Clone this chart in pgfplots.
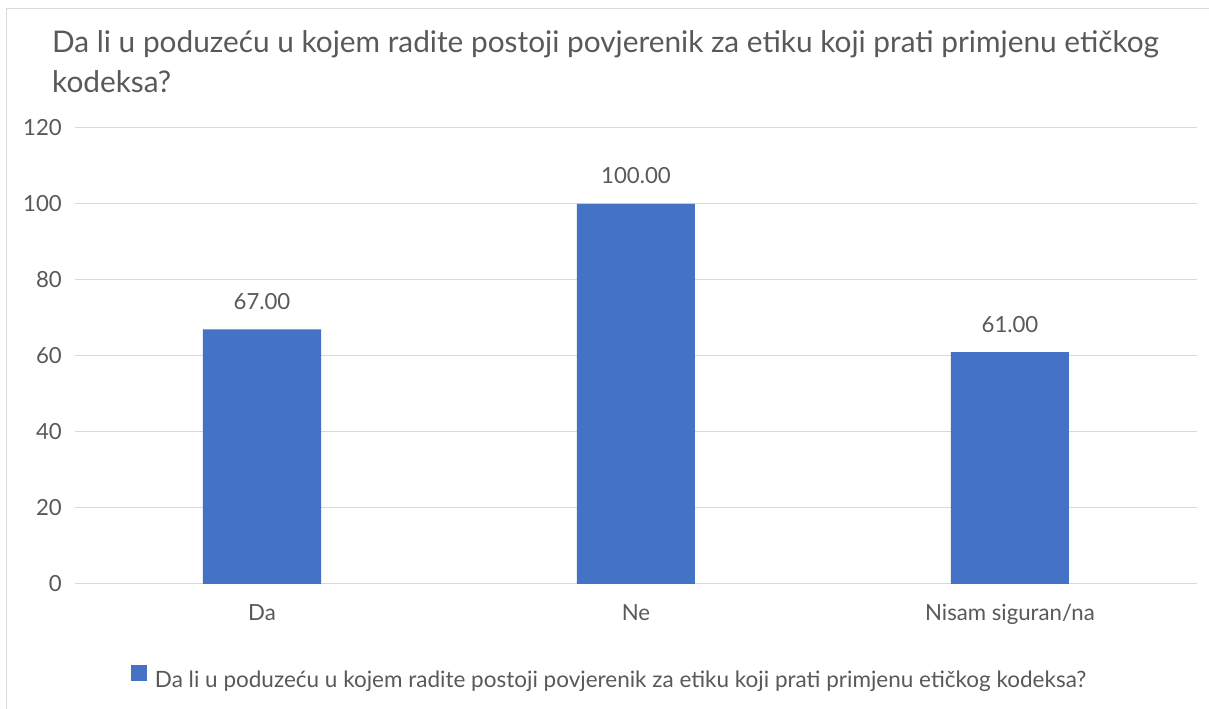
\documentclass[border=0pt]{standalone}
\usepackage{fontspec}
\setmainfont{Lato}
\usepackage{pgfplots}
\pgfplotsset{compat=1.18}
\definecolor{txt}{HTML}{595959}
\definecolor{grd}{HTML}{D9D9D9}
\definecolor{bar}{HTML}{4472C4}
\begin{document}
\begin{tikzpicture}
\useasboundingbox (0,0) rectangle (1209bp,709bp);
\fill[white] (0,0) rectangle (1209bp,709bp);
\draw[grd, line width=1.5bp] (6.5bp,0) -- (6.5bp,700.5bp) -- (1209bp,700.5bp);
\node[anchor=base west, inner sep=0pt, text=txt, font=\fontsize{29.8bp}{34bp}\selectfont] at (52bp,656bp) {Da li u poduzeću u kojem radite postoji povjerenik za etiku koji prati primjenu etičkog};
\node[anchor=base west, inner sep=0pt, text=txt, font=\fontsize{29.8bp}{34bp}\selectfont] at (52bp,616bp) {kodeksa?};
\begin{axis}[
  at={(75bp,125bp)}, anchor=south west,
  scale only axis, width=1122bp, height=456bp,
  xmin=-0.5, xmax=2.5, ymin=0, ymax=120,
  ytick={0,20,40,60,80,100,120},
  xtick={0,1,2},
  xticklabels={Da,Ne,Nisam siguran/na},
  axis line style={draw=none},
  major tick length=0pt,
  ymajorgrids, grid style={grd, line width=1bp},
  tick label style={font=\fontsize{22.2bp}{26bp}\selectfont, text=txt},
  /pgf/number format/assume math mode=true,
  yticklabel style={anchor=east, inner sep=0pt, xshift=-13bp},
  xticklabel style={anchor=base, inner sep=0pt, yshift=-37bp},
  ybar, bar width=118bp,
  nodes near coords={\pgfmathprintnumber[fixed,fixed zerofill,precision=2]{\pgfplotspointmeta}},
  every node near coord/.append style={anchor=base, inner sep=0pt, yshift=20bp, font=\fontsize{22.2bp}{26bp}\selectfont, text=txt},
  legend style={at={(axis description cs:0.0499,-0.204)}, anchor=west, draw=none, fill=none, inner sep=0pt, outer sep=0pt, nodes={inner sep=0pt, text=txt}, font=\fontsize{22.5bp}{26bp}\selectfont, column sep=8bp},
  legend image code/.code={\fill[#1] (0bp,-1bp) rectangle (16bp,15bp);},
]
\addplot[fill=bar, draw=none] coordinates {(0,67) (1,100) (2,61)};
\addlegendentry{Da li u poduzeću u kojem radite postoji povjerenik za etiku koji prati primjenu etičkog kodeksa?}
\end{axis}
\end{tikzpicture}
\end{document}
